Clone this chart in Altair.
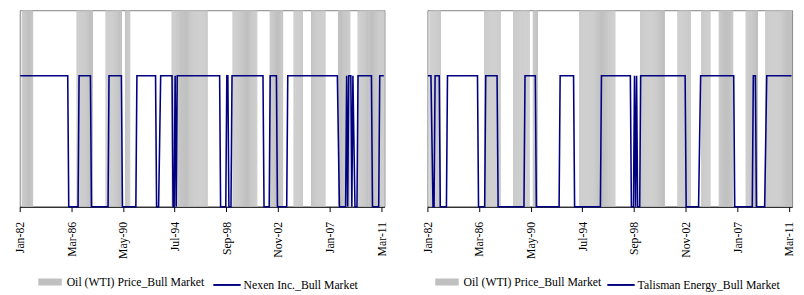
import altair as alt
import pandas as pd

OIL_LABEL = "Oil (WTI) Price_Bull Market"
NEXEN_LABEL = "Nexen Inc._Bull Market"
TALISMAN_LABEL = "Talisman Energy_Bull Market"

FIRST_MONTH = "1982-01"
LAST_MONTH = "2011-05"

# Oil (WTI) bull-market periods (first and last month, inclusive)
OIL_BULL_START = ["1982-03", "1986-08", "1988-12", "1990-07", "1994-04", "1999-03",
                  "2002-03", "2004-02", "2005-07", "2007-09", "2009-04"]
OIL_BULL_END = ["1983-01", "1987-11", "1990-03", "1990-11", "1997-02", "2001-02",
                "2003-03", "2004-10", "2006-08", "2008-08", "2011-05"]

# Stock bull-market indicator: month where the value changes, and the new value
NEXEN_CHANGE_MONTH = ["1982-01", "1985-12", "1986-10", "1987-10", "1989-03", "1990-04",
                      "1991-06", "1993-01", "1993-04", "1993-05", "1994-05", "1994-07",
                      "1994-08", "1994-09", "1998-03", "1998-09", "1998-11", "1999-02",
                      "2001-09", "2002-03", "2002-10", "2003-08", "2007-09", "2007-10",
                      "2008-05", "2008-06", "2008-07", "2008-10", "2008-11", "2008-12",
                      "2009-01", "2009-04", "2010-06", "2011-01"]
NEXEN_CHANGE_VALUE = [1, 0, 1, 0, 1, 0,
                      1, 0, 0.5, 1, 0, 1,
                      0, 1, 0, 1, 0, 1,
                      0, 1, 0, 1, 0.5, 0,
                      1, 0, 1, 0, 1, 0.5,
                      0, 1, 0, 1]

TALISMAN_CHANGE_MONTH = ["1982-01", "1982-05", "1982-06", "1982-08", "1983-01", "1983-08",
                         "1986-02", "1986-09", "1987-09", "1989-11", "1990-10", "1992-09",
                         "1993-11", "1996-01", "1998-06", "1998-09", "1998-10", "1998-11",
                         "1998-12", "1999-03", "2002-11", "2003-12", "2004-01", "2006-10",
                         "2008-04", "2008-07", "2009-04", "2009-05"]
TALISMAN_CHANGE_VALUE = [1, 0.5, 0, 1, 0, 1,
                         0, 1, 0, 1, 0, 1,
                         0, 1, 0, 1, 0, 1,
                         0, 1, 0, 0.5, 1, 0,
                         1, 0, 0.5, 1]

TICK_YEAR = [1982, 1986, 1990, 1994, 1998, 2002, 2007, 2011]
TICK_MONTH = [1, 3, 5, 7, 9, 11, 1, 3]

GRAY = "#C0C0C0"
NAVY = "#000080"
FONT = "'Liberation Serif', 'Times New Roman', 'DejaVu Serif', serif"


def oil_table():
    rows = []
    for s, e in zip(OIL_BULL_START, OIL_BULL_END):
        for p in pd.period_range(s, e, freq="M"):
            rows.append({"start": p.start_time, "end": (p + 1).start_time,
                         "oil": 1, "base": 0, "series": OIL_LABEL})
    return pd.DataFrame(rows)


def line_table(change_months, change_values, label):
    changes = {pd.Period(m, "M"): v for m, v in zip(change_months, change_values)}
    rows = []
    cur = 0
    for p in pd.period_range(FIRST_MONTH, LAST_MONTH, freq="M"):
        if p in changes:
            cur = changes[p]
        rows.append({"date": p.start_time + pd.Timedelta(days=14), "value": cur, "series": label})
    return pd.DataFrame(rows)


oil_df = oil_table()
tick_values = [alt.DateTime(year=y, month=m, date=1) for y, m in zip(TICK_YEAR, TICK_MONTH)]
x_domain = [alt.DateTime(year=1982, month=1, date=1), alt.DateTime(year=2011, month=6, date=1)]

W, H = 373, 201
LEG_Y = 266

x_axis = alt.Axis(values=tick_values, format="%b-%y", labelAngle=-90, title=None,
                  grid=False, domainColor="#000000", tickColor="#000000",
                  tickSize=5, labelPadding=10, labelFont=FONT, labelFontSize=12,
                  labelColor="#000000")


def panel(line_df, label, fill_x, stroke_x):
    bars = alt.Chart(oil_df).mark_rect(strokeWidth=0).encode(
        x=alt.X("start:T", scale=alt.Scale(domain=x_domain), axis=x_axis),
        x2="end:T",
        y=alt.Y("oil:Q", scale=alt.Scale(domain=[0, 1]), axis=None),
        y2="base:Q",
        fill=alt.Fill("series:N", scale=alt.Scale(domain=[OIL_LABEL], range=[GRAY]),
                      legend=alt.Legend(title=None, orient="none", legendX=fill_x, legendY=LEG_Y,
                                        symbolType="M-1,-0.3H1V0.3H-1Z", symbolSize=576,
                                        symbolStrokeWidth=0, labelFont=FONT, labelFontSize=12,
                                        labelColor="#000000", labelOffset=5, padding=0,
                                        labelLimit=400)),
    )
    line = alt.Chart(line_df).mark_line(strokeWidth=1.6).encode(
        x=alt.X("date:T", scale=alt.Scale(domain=x_domain), axis=x_axis),
        y=alt.Y("value:Q", scale=alt.Scale(domain=[0, 1.5]), axis=None),
        stroke=alt.Stroke("series:N", scale=alt.Scale(domain=[label], range=[NAVY]),
                          legend=alt.Legend(title=None, orient="none", legendX=stroke_x, legendY=LEG_Y,
                                            symbolType="stroke", symbolSize=784,
                                            symbolStrokeWidth=2, labelFont=FONT, labelFontSize=12,
                                            labelColor="#000000", labelOffset=2, padding=0,
                                            labelLimit=400)),
    )
    return alt.layer(bars, line).resolve_scale(y="independent").properties(width=W, height=H)


left = panel(line_table(NEXEN_CHANGE_MONTH, NEXEN_CHANGE_VALUE, NEXEN_LABEL), NEXEN_LABEL, 19, 197)
right = panel(line_table(TALISMAN_CHANGE_MONTH, TALISMAN_CHANGE_VALUE, TALISMAN_LABEL), TALISMAN_LABEL, 8, 183)

chart = alt.hconcat(left, right, spacing=44, bounds="flush").resolve_scale(
    fill="independent", stroke="independent"
).properties(
    padding={"left": 5, "top": -2, "right": 0, "bottom": 0}
).configure(font=FONT).configure_view(stroke="#808080", strokeWidth=1).configure_legend(
    labelFont=FONT
).configure_axis(labelFont=FONT)

chart.save("out.html", embed_options={"renderer": "svg", "actions": False})
